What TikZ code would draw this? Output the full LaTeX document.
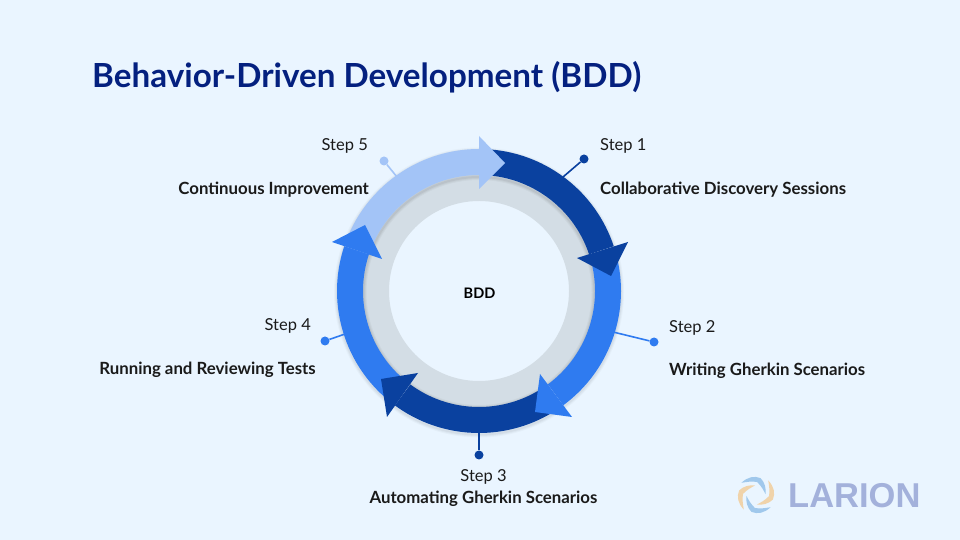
\documentclass[tikz,border=0pt]{standalone}
\usepackage{fontspec}
\usetikzlibrary{calc}
\setmainfont{Lato}
\newfontfamily\logofont{Liberation Sans}
\definecolor{bgc}{HTML}{EAF5FF}
\definecolor{darkb}{HTML}{0A419F}
\definecolor{midb}{HTML}{2F7BF0}
\definecolor{lightb}{HTML}{A3C4F7}
\definecolor{ringg}{HTML}{D3DDE5}
\definecolor{titlec}{HTML}{04207F}
\definecolor{logoc}{HTML}{A3B1DB}
\definecolor{swb}{HTML}{A0C8EC}
\definecolor{swo}{HTML}{F0D3AA}
\definecolor{txt}{HTML}{1A1A1A}
\tikzset{x=1pt,y=1pt,
  stepl/.style={font=\fontsize{16.5}{18}\selectfont,text=txt,inner sep=0pt},
  namel/.style={font=\fontsize{16.8}{18}\selectfont\bfseries,text=txt,inner sep=0pt},
  pin/.style={circle,fill=#1,inner sep=0pt,minimum size=9pt},
  pinl/.style={draw=#1,line width=1.6pt}}
\newcommand{\band}[3]{\fill[#3] ($(c)+(#1:142)$) arc[start angle=#1,end angle=#2,radius=142] -- ($(c)+(#2:116)$) arc[start angle=#2,end angle=#1,radius=116] -- cycle;}
\newcommand{\ahead}[7]{\fill[#7] (#1,#2) -- (#3,#4) -- (#5,#6) -- cycle;}
\newcommand{\swoosh}[2]{\fill[#2,rotate around={#1:(sw)}] ($(sw)+(50:19)$) .. controls ($(sw)+(25:20)$) and ($(sw)+(5:19.5)$) .. ($(sw)+(-15:17.5)$) .. controls ($(sw)+(-35:15.5)$) and ($(sw)+(-60:12)$) .. ($(sw)+(-85:9.5)$) .. controls ($(sw)+(-60:9)$) and ($(sw)+(-30:10.5)$) .. ($(sw)+(-5:13)$) .. controls ($(sw)+(15:14.5)$) and ($(sw)+(35:16)$) .. ($(sw)+(50:19)$) -- cycle;}
\begin{document}
\begin{tikzpicture}
\useasboundingbox (0,0) rectangle (960,540);
\fill[bgc] (0,0) rectangle (960,540);
\coordinate (c) at (479,249);
\coordinate (csh) at (479,247.5);
% soft shadow of the ring
\foreach \w/\o in {6/.025,4/.03,2/.04}{
  \draw[black,opacity=\o,line width=\w pt] (csh) circle[radius=142];
}
\fill[ringg,even odd rule] (c) circle[radius=118] (c) circle[radius=90];
\foreach \w/\o in {6/.03,4/.04,2/.05}{
  \draw[black,opacity=\o,line width=\w pt] (csh) circle[radius=115.5];
}
% pins
\node[pin=darkb] (p1) at (584,381) {};
\node[pin=midb] (p2) at (654,198) {};
\node[pin=darkb] (p3) at (479,85) {};
\node[pin=midb] (p4) at (325,199) {};
\node[pin=lightb] (p5) at (384,379) {};
\coordinate (r1) at (563,363);
\coordinate (r2) at (613,208);
\coordinate (r3) at (479,108);
\coordinate (r4) at (345,206);
\coordinate (r5) at (397,363);
\draw[pinl=darkb] (p1) -- (r1);
\draw[pinl=midb] (p2) -- (r2);
\draw[pinl=darkb] (p3) -- (r3);
\draw[pinl=midb] (p4) -- (r4);
\draw[pinl=lightb] (p5) -- (r5);
% bands
\band{85}{18.4}{darkb}
\band{12.5}{-53.6}{midb}
\band{-59}{-126.3}{darkb}
\band{-131.5}{-198.4}{midb}
\band{157}{90}{lightb}
% heads
\ahead{628}{298}{577}{282}{611}{264}{darkb}
\ahead{540}{166}{572}{123}{535}{128}{midb}
\ahead{418}{167}{387}{123}{381}{161}{darkb}
\ahead{382}{281}{332}{298}{365}{315}{midb}
\ahead{479}{404}{479}{351}{505}{377}{lightb}
% text
\node[anchor=west,inner sep=0pt,text=titlec,font=\fontsize{33.2}{38}\selectfont\bfseries] (title) at (92,463) {Behavior-Driven Development (BDD)};
\node[font=\fontsize{14.5}{17}\selectfont\bfseries,text=black,inner sep=0pt] (bdd) at (479.5,247) {BDD};
\node[stepl,anchor=west] (s1) at (600,394) {Step 1};
\node[namel,anchor=west] (n1) at (600,350) {Collaborative Discovery Sessions};
\node[stepl,anchor=west] (s2) at (669,212) {Step 2};
\node[namel,anchor=west] (n2) at (669,169) {Writing Gherkin Scenarios};
\node[stepl] (s3) at (483.5,63) {Step 3};
\node[namel] (n3) at (483.5,41) {Automating Gherkin Scenarios};
\node[stepl,anchor=east] (s4) at (311,214) {Step 4};
\node[namel,anchor=east] (n4) at (316,170) {Running and Reviewing Tests};
\node[stepl,anchor=east] (s5) at (368,394) {Step 5};
\node[namel,anchor=east] (n5) at (369,350) {Continuous Improvement};
% logo
\coordinate (sw) at (756,45);
\swoosh{0}{swo}
\swoosh{90}{swb}
\swoosh{180}{swo}
\swoosh{270}{swb}
\node[anchor=west,inner sep=0pt,text=logoc,font=\logofont\fontsize{34.5}{38}\selectfont\bfseries] (logo) at (788,44) {LARION};
\end{tikzpicture}
\end{document}
